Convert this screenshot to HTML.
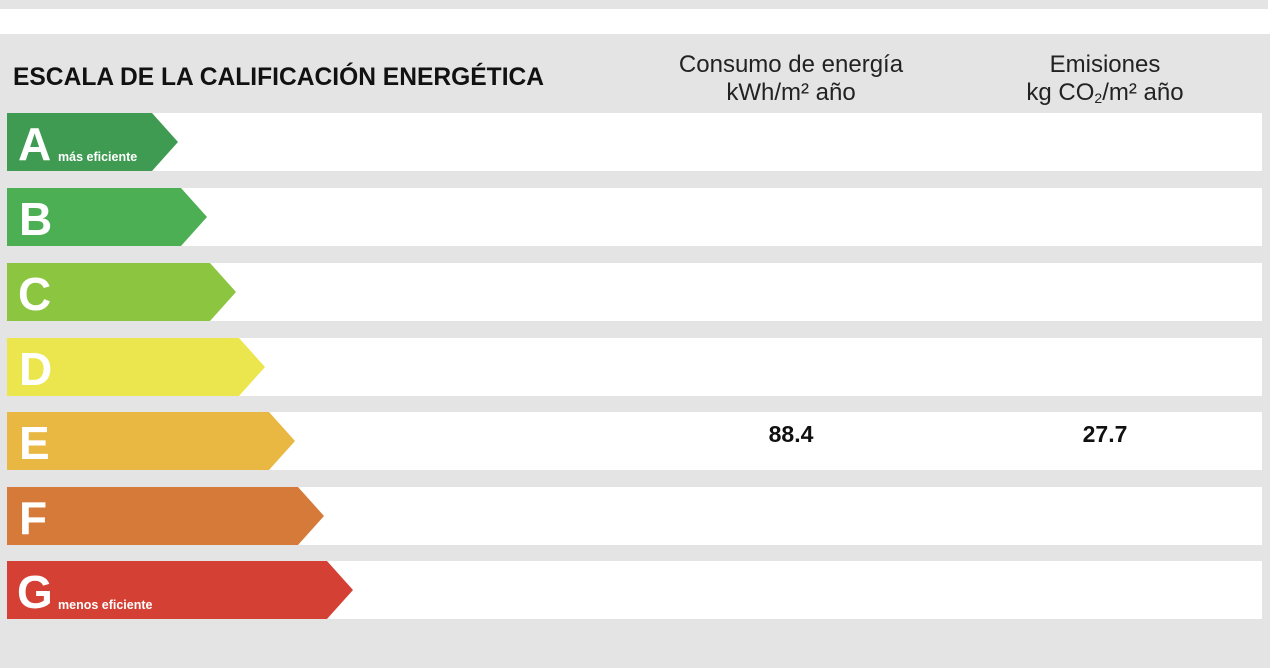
<!DOCTYPE html>
<html><head><style>
body{margin:0;width:1280px;height:668px;background:#fff;position:relative;overflow:hidden;font-family:"Liberation Sans",sans-serif}
.abs{position:absolute}
.row{position:absolute;left:7px;width:1255px;height:58px;background:#fff}
.lab{position:absolute;color:#fff;font-weight:bold}
.hd{position:absolute;text-align:center;font-size:24px;color:#222;line-height:28px}
.val{position:absolute;font-weight:bold;font-size:23px;color:#111;text-align:center;width:200px}
</style></head><body>
<div class="abs" style="left:0;top:0;width:1268px;height:9px;background:#e4e4e4"></div>
<div class="abs" style="left:0;top:34px;width:1270px;height:634px;background:#e4e4e4"></div>
<div class="abs" style="left:13px;top:64px;font-size:24.6px;font-weight:bold;color:#111">ESCALA DE LA CALIFICACIÓN ENERGÉTICA</div>
<div class="hd" style="left:641px;width:300px;top:51px">Consumo de energía<br>kWh/m² año</div>
<div class="hd" style="left:955px;width:300px;top:51px">Emisiones<br>kg CO<sub style="font-size:14px;vertical-align:-3px;line-height:0">2</sub>/m² año</div>
<div class="row" style="top:113px"></div>
<div class="row" style="top:188px"></div>
<div class="row" style="top:263px"></div>
<div class="row" style="top:338px"></div>
<div class="row" style="top:412px"></div>
<div class="row" style="top:487px"></div>
<div class="row" style="top:561px"></div>
<svg class="abs" style="left:0;top:0" width="400" height="668">
<polygon points="7,113 152,113 178,142 152,171 7,171" fill="#3f9b52"/>
<polygon points="7,188 181,188 207,217 181,246 7,246" fill="#4daf53"/>
<polygon points="7,263 210,263 236,292 210,321 7,321" fill="#8cc540"/>
<polygon points="7,338 239,338 265,367 239,396 7,396" fill="#ebe64e"/>
<polygon points="7,412 269,412 295,441 269,470 7,470" fill="#e8b843"/>
<polygon points="7,487 298,487 324,516 298,545 7,545" fill="#d67a3a"/>
<polygon points="7,561 327,561 353,590 327,619 7,619" fill="#d54035"/>
</svg>
<div class="lab" style="left:18px;top:120px;font-size:46px;line-height:48px">A</div>
<div class="lab" style="left:58px;top:150px;font-size:12.5px">más eficiente</div>
<div class="lab" style="left:19px;top:195px;font-size:46px;line-height:48px">B</div>
<div class="lab" style="left:18px;top:270px;font-size:46px;line-height:48px">C</div>
<div class="lab" style="left:19px;top:345px;font-size:46px;line-height:48px">D</div>
<div class="lab" style="left:19px;top:419px;font-size:46px;line-height:48px">E</div>
<div class="lab" style="left:19px;top:494px;font-size:46px;line-height:48px">F</div>
<div class="lab" style="left:17px;top:568px;font-size:46px;line-height:48px">G</div>
<div class="lab" style="left:58px;top:598px;font-size:12.5px">menos eficiente</div>
<div class="val" style="left:691px;top:421px">88.4</div>
<div class="val" style="left:1005px;top:421px">27.7</div>
</body></html>
